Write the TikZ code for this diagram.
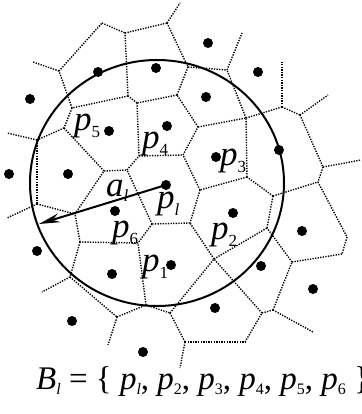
\documentclass[tikz,border=0pt]{standalone}
\usepackage{fontspec}
\setmainfont{Liberation Serif}
\usetikzlibrary{arrows.meta}
\newcommand{\plab}[2]{{\fontsize{35}{35}\selectfont\itshape p}\raisebox{-7pt}{\fontsize{17}{17}\selectfont #2}}
\newcommand{\plabit}[2]{{\fontsize{35}{35}\selectfont\itshape p}\raisebox{-7pt}{\fontsize{17}{17}\selectfont\itshape #2}}
\newcommand{\bsub}[1]{\raisebox{-5pt}{\fontsize{16}{16}\selectfont #1}}
\begin{document}
\begin{tikzpicture}[x=1pt,y=-1pt,
  vor/.style={line width=1.4pt, dash pattern=on 1.3pt off 1.3pt},
  site/.style={circle, fill=black, inner sep=0pt, minimum size=10pt},
  lab/.style={anchor=base west, inner sep=0pt},
  ring/.style={line width=2pt},
  radius arrow/.style={line width=2pt, -{Stealth[length=21pt, width=9pt]}}]
\useasboundingbox (0,0) rectangle (361,414);
% Voronoi vertices
\coordinate (F) at (59,71);   \coordinate (Fe) at (33,62);
\coordinate (G) at (102,23);
\coordinate (I) at (125,33);
\coordinate (A) at (167,23);  \coordinate (Ae) at (180,3);
\coordinate (B) at (188,67);
\coordinate (C) at (227,70);  \coordinate (Ce) at (242,33);
\coordinate (D) at (177,95);
\coordinate (E1) at (128,96);
\coordinate (E2) at (137,103);
\coordinate (H) at (72,108);
\coordinate (S) at (64,128);
\coordinate (UU) at (37,140); \coordinate (UUe) at (7,133);
\coordinate (SS) at (37,204); \coordinate (SSe) at (7,218);
\coordinate (T) at (75,214);
\coordinate (Q) at (104,171);
\coordinate (P) at (127,170);
\coordinate (J) at (139,156);
\coordinate (N) at (183,155);
\coordinate (L) at (198,127);
\coordinate (M) at (246,118);
\coordinate (AA) at (282,107); \coordinate (AAe) at (282,62);
\coordinate (BB) at (300,115); \coordinate (BBe) at (328,95);
\coordinate (CC) at (323,167); \coordinate (CCe) at (361,160);
\coordinate (DD) at (318,182);
\coordinate (EE) at (347,237);
\coordinate (JJ) at (342,254);
\coordinate (GG) at (292,262);
\coordinate (II) at (273,310); \coordinate (IIe) at (313,332);
\coordinate (HH) at (262,313);
\coordinate (KK) at (245,342);
\coordinate (LL) at (185,342); \coordinate (LLe) at (180,368);
\coordinate (MM) at (170,313);
\coordinate (NN) at (146,305);
\coordinate (OO) at (117,317); \coordinate (OOe) at (108,345);
\coordinate (PP) at (70,277);  \coordinate (PPe) at (42,292);
\coordinate (QQ) at (80,242);
\coordinate (Y) at (138,243);
\coordinate (R) at (152,224);
\coordinate (U) at (190,223);
\coordinate (O) at (200,190);
\coordinate (W) at (247,177);
\coordinate (Z) at (273,196);
\coordinate (FF) at (267,228);
\coordinate (X) at (214,259);
\foreach \a/\b in {F/Fe,F/G,G/I,I/A,A/Ae,A/B,B/C,C/Ce,B/D,D/E2,E2/E1,E1/I,E1/H,H/F,H/S,S/UU,UU/UUe,UU/SS,SS/SSe,SS/T,T/Q,Q/S,Q/P,P/J,J/E2,J/N,N/L,L/D,L/M,M/C,M/AA,AA/AAe,AA/BB,BB/BBe,BB/CC,CC/CCe,CC/DD,DD/EE,EE/JJ,JJ/GG,GG/FF,FF/Z,Z/DD,Z/W,W/M,W/O,O/N,O/U,U/R,R/P,R/Y,Y/QQ,QQ/T,QQ/PP,PP/PPe,PP/OO,OO/OOe,OO/NN,NN/Y,NN/MM,MM/X,MM/LL,LL/LLe,LL/KK,KK/HH,HH/X,HH/II,II/IIe,II/GG,X/U,X/FF}
  \draw[vor] (\a) -- (\b);
% circle
\coordinate (cen) at (157,183);
\draw[ring] (cen) ellipse [x radius=127pt, y radius=123pt];
% sites
\node[site] (s1) at (98,72) {};
\node[site] (s2) at (156,68) {};
\node[site] (s3) at (208,43) {};
\node[site] (s4) at (258,72) {};
\node[site] (s5) at (30,99) {};
\node[site] (s6) at (206,97) {};
\node[site] (s7) at (109,131) {};
\node[site] (s8) at (167,126) {};
\node[site] (s9) at (216,157) {};
\node[site] (s10) at (279,150) {};
\node[site] (s11) at (9,174) {};
\node[site] (s12) at (68,174) {};
\node[site] (pl) at (166,185) {};
\node[site] (s14) at (115,211) {};
\node[site] (s15) at (37,251) {};
\node[site] (s16) at (112,274) {};
\node[site] (s17) at (171,265) {};
\node[site] (s18) at (233,213) {};
\node[site] (s19) at (302,231) {};
\node[site] (s20) at (261,266) {};
\node[site] (s21) at (313,289) {};
\node[site] (s22) at (215,308) {};
\node[site] (s23) at (72,321) {};
\node[site] (s24) at (143,352) {};
% radius arrow
\coordinate (tip) at (39,224);
\draw[radius arrow] (pl.center) -- (tip);
% labels
\node[lab] (l5) at (74,131) {\plab{p}{5}};
\node[lab] (l4) at (142,148) {\plab{p}{4}};
\node[lab] (l3) at (220,165) {\plab{p}{3}};
\node[lab] (ll) at (157,208) {\plabit{p}{l}};
\node[lab] (l6) at (112,237) {\plab{p}{6}};
\node[lab] (l2) at (211,239) {\plab{p}{2}};
\node[lab] (l1) at (142,271) {\plab{p}{1}};
\node[lab] (al) at (106,196) {{\fontsize{35}{35}\selectfont\itshape a}\raisebox{-5pt}{\fontsize{17}{17}\selectfont\itshape l}};
\node[lab] (Bl) at (36,389) {\fontsize{33}{33}\selectfont\itshape B\bsub{l}\upshape\ = \{ \itshape p\bsub{l}\upshape, \itshape p\bsub{\upshape 2}\upshape, \itshape p\bsub{\upshape 3}\upshape, \itshape p\bsub{\upshape 4}\upshape, \itshape p\bsub{\upshape 5}\upshape, \itshape p\bsub{\upshape 6}\upshape\ \}};
\end{tikzpicture}
\end{document}
